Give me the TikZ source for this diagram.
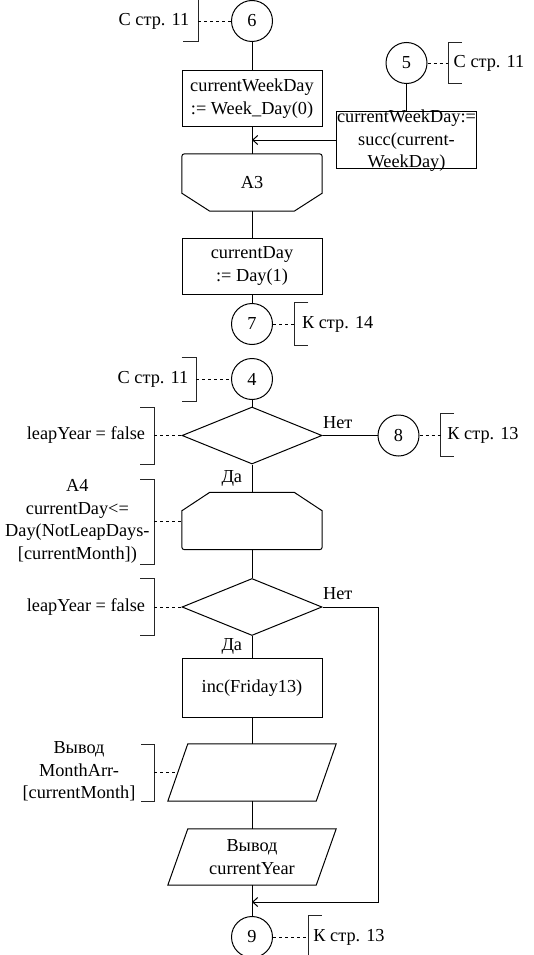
\documentclass[tikz,border=0pt]{standalone}
\usepackage{fontspec}
\setmainfont{Liberation Serif}
\usetikzlibrary{shapes.geometric,arrows.meta,calc}
\begin{document}
\begin{tikzpicture}[x=1pt,y=-1pt,
  every node/.style={font=\fontsize{18.3}{22.7}\selectfont, inner sep=0pt, align=center},
  ln/.style={line width=1pt, draw=black},
  dline/.style={line width=0.9pt, draw=black, dash pattern=on 3pt off 3pt},
  conn/.style={circle, draw, line width=1pt, minimum size=41pt},
  box/.style={rectangle, draw, line width=1pt, minimum width=140pt, minimum height=56pt},
  ghost/.style={rectangle, minimum width=140pt, minimum height=57pt},
  dec/.style={diamond, draw, line width=1pt, minimum width=140pt, minimum height=57pt},
  arr/.style={ln, -{Straight Barb[length=5pt,width=9pt]}},
  brk/.style={line width=1pt, draw=black!85}
]
\useasboundingbox (0,0) rectangle (533,955);

% main column
\node[conn] (c6) at (252,21) {6};
\node[box] (r1) at (252,98.5) {currentWeekDay\\:= Week\_Day(0)};
\node[ghost] (a3) at (252,182.5) {A3};
\node[box] (r3) at (252,266) {currentDay\\:= Day(1)};
\node[conn] (c7) at (252,324) {7};

\node[conn] (c4) at (252,379) {4};
\node[dec] (d1) at (252,435.5) {};
\node[ghost] (a4) at (252,521) {};
\node[dec] (d2) at (252,607) {};
\node[box, minimum height=59pt] (r4) at (252,688.2) {inc(Friday13)};
\node[rectangle, minimum width=168pt, minimum height=57pt] (p1) at (252,772.5) {};
\node[rectangle, minimum width=168pt, minimum height=56pt] (p2) at (252,857) {Вывод\\currentYear};
\node[conn] (c9) at (252,937) {9};

% side
\node[conn] (c5) at (406.5,63) {5};
\node[box] (r2) at (406.5,140) {};
\node (r2t) at (406.5,140.7) {currentWeekDay:=\\succ(current-\\WeekDay)};
\node[conn] (c8) at (398.5,435.5) {8};

% special shapes
\draw[ln] ($(a3.south west)+(0,-18)$) -- ($(a3.south west)+(28,0)$) -- ($(a3.south east)+(-28,0)$) -- ($(a3.south east)+(0,-18)$) -- ($(a3.north east)+(0,6)$) .. controls (a3.north east) .. ($(a3.north east)+(-6,0)$) -- ($(a3.north west)+(6,0)$) .. controls (a3.north west) .. ($(a3.north west)+(0,6)$) -- cycle;
\draw[ln] ($(a4.north west)+(0,18.5)$) -- ($(a4.north west)+(28,0)$) -- ($(a4.north east)+(-28,0)$) -- ($(a4.north east)+(0,18.5)$) -- ($(a4.south east)+(0,-6)$) .. controls (a4.south east) .. ($(a4.south east)+(-6,0)$) -- ($(a4.south west)+(6,0)$) .. controls (a4.south west) .. ($(a4.south west)+(0,-6)$) -- cycle;
\draw[ln] ($(p1.north west)+(20,0)$) -- (p1.north east) -- ($(p1.south east)+(-20,0)$) -- (p1.south west) -- cycle;
\draw[ln] ($(p2.north west)+(20,0)$) -- (p2.north east) -- ($(p2.south east)+(-20,0)$) -- (p2.south west) -- cycle;

% connectors
\draw[ln] (c6) -- (r1);
\draw[ln] (r1) -- (a3);
\draw[ln] (a3) -- (r3);
\draw[ln] (r3) -- (c7);
\draw[ln] (c5) -- (r2);
\coordinate (j1) at (252,140);
\draw[arr] (r2.west) -- (j1);
\draw[ln] (c4) -- (d1);
\draw[ln] (d1.east) -- (c8.west);
\draw[ln] (d1.south) -- (a4.north);
\draw[ln] (a4.south) -- (d2.north);
\draw[ln] (d2.south) -- (r4.north);
\draw[ln] (r4.south) -- (p1.north);
\draw[ln] (p1.south) -- (p2.north);
\draw[ln] (p2.south) -- (c9.north);
\coordinate (rc) at (378,902);
\coordinate (j2) at (252,902);
\draw[arr] (d2.east) -| (rc) -- (j2);

% labels
\node (n1) at (337.7,422.3) {Нет};
\node (n2) at (337.7,593.4) {Нет};
\node (y1) at (231.8,478.3) {Да};
\node (y2) at (231.8,646) {Да};

% annotations
\node (t6) at (154,21) {С стр. 11};
\draw[brk] (183,0) -- (198,0) -- (198,42) -- (183,42);
\coordinate (b6) at (198,21);
\draw[dline] (b6) -- (c6.west);

\node (t5) at (489,63) {С стр. 11};
\draw[brk] (462,42.7) -- (448.3,42.7) -- (448.3,84) -- (462,84);
\coordinate (b5) at (448.3,63);
\draw[dline] (c5.east) -- (b5);

\node (t7) at (337.7,324) {К стр. 14};
\draw[brk] (308.3,302.7) -- (294.3,302.7) -- (294.3,345) -- (308.3,345);
\coordinate (b7) at (294.3,324);
\draw[dline] (c7.east) -- (b7);

\node (t4) at (153,379) {С стр. 11};
\draw[brk] (181.6,357.5) -- (196.2,357.5) -- (196.2,401) -- (181.6,401);
\coordinate (b4) at (196.2,379);
\draw[dline] (b4) -- (c4.west);

\node (tl1) at (86,435.5) {leapYear = false};
\draw[brk] (140.2,407) -- (154.4,407) -- (154.4,464) -- (140.2,464);
\coordinate (bl1) at (154.4,435.5);
\draw[dline] (bl1) -- (d1.west);

\node (t8) at (483,435.5) {К стр. 13};
\draw[brk] (454,413.5) -- (440.6,413.5) -- (440.6,456) -- (454,456);
\coordinate (b8) at (440.6,435.5);
\draw[dline] (c8.east) -- (b8);

\node (ta4) at (77.4,521.4) {A4\\currentDay<=\\Day(NotLeapDays-\\{}[currentMonth])};
\draw[brk] (140,479) -- (154,479) -- (154,564) -- (140,564);
\coordinate (ba4) at (154,521);
\draw[dline] (ba4) -- (a4.west);

\node (tl2) at (86,607) {leapYear = false};
\draw[brk] (140.2,578.5) -- (154.4,578.5) -- (154.4,635.5) -- (140.2,635.5);
\coordinate (bl2) at (154.4,607);
\draw[dline] (bl2) -- (d2.west);

\node (tp1) at (79,771.5) {Вывод\\MonthArr-\\{}[currentMonth]};
\draw[brk] (141,744) -- (154,744) -- (154,801) -- (141,801);
\coordinate (bp1) at (154,772.5);
\coordinate (pp1) at ($(p1.west)+(10,0)$);
\draw[dline] (bp1) -- (pp1);

\node (t9) at (349,937) {К стр. 13};
\draw[brk] (321.8,915.6) -- (308.2,915.6) -- (308.2,958) -- (321.8,958);
\coordinate (b9) at (308.2,937);
\draw[dline] (c9.east) -- (b9);
\end{tikzpicture}
\end{document}
